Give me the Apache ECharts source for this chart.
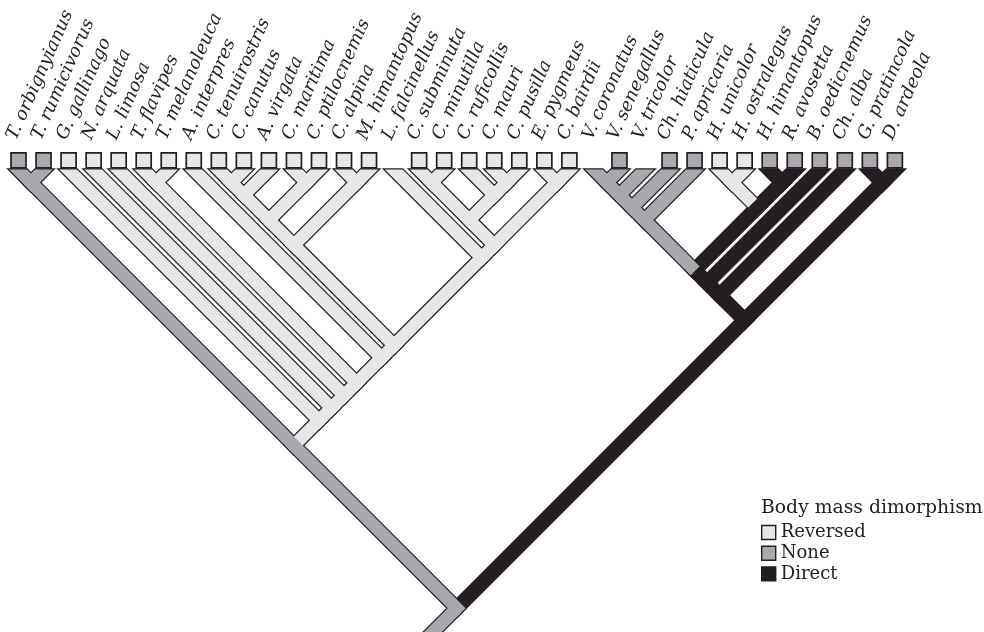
<!DOCTYPE html>
<html>
<head>
<meta charset="utf-8">
<script src="https://cdn.jsdelivr.net/npm/echarts@6.0.0/dist/echarts.min.js"></script>
<style>
  html, body { margin: 0; padding: 0; background: #ffffff; }
  #chart { width: 984px; height: 632px; }
</style>
</head>
<body>
<div id="chart"></div>
<script>
// Shorebird taxa, in tip order from left to right
const taxa = [
  'T. orbignyianus', 'T. rumicivorus', 'G. gallinago', 'N. arquata', 'L. limosa',
  'T. flavipes', 'T. melanoleuca', 'A. interpres', 'C. tenuirostris', 'C. canutus',
  'A. virgata', 'C. maritima', 'C. ptilocnemis', 'C. alpina', 'M. himantopus',
  'L. falcinellus', 'C. subminuta', 'C. minutilla', 'C. ruficollis', 'C. mauri',
  'C. pusilla', 'E. pygmeus', 'C. bairdii', 'V. coronatus', 'V. senegallus',
  'V. tricolor', 'Ch. hiaticula', 'P. apricaria', 'H. unicolor', 'H. ostralegus',
  'H. himantopus', 'R. avosetta', 'B. oedicnemus', 'Ch. alba', 'G. pratincola',
  'D. ardeola'
];

// Body mass dimorphism scored at each tip: R reversed, N none, D direct, '' not scored
const tipStates = [
  'N', 'N', 'R', 'R', 'R', 'R', 'R', 'R', 'R', 'R', 'R', 'R', 'R', 'R', 'R',
  '', 'R', 'R', 'R', 'R', 'R', 'R', 'R', '', 'N', '', 'N', 'N', 'R', 'R',
  'N', 'N', 'N', 'N', 'N', 'N'
];

// Topology: nested pairs of tip indices
const tree = [
  [[0, 1],
   [2, [3, [4, [[5, 6], [7, [
     [[[[8, 9], 10], [11, 12]], [13, 14]],
     [15, [[[16, 17], [18, [19, 20]]], [21, 22]]]
   ]]]]]]],
  [[[[[[[[23, 24], 25], 26], 27], [[28, 29], [30, 31]]], 32], 33], [34, 35]]
];

// Reconstructed branch states: [first tip, last tip, state];
// a branch takes the state of the smallest listed clade that contains it
const cladeStates = [
  [0, 35, 'N'],
  [0, 22, 'N'],
  [2, 22, 'R'],
  [23, 35, 'D'],
  [23, 27, 'N'],
  [28, 29, 'R']
];

const stateNames = { R: 'Reversed', N: 'None', D: 'Direct' };
const legendTitle = 'Body mass dimorphism';

// ---- drawing constants ----
const W = 984, H = 632;
const firstTipPx = 18.5, tipStepPx = 25.04, tipRowPx = 170;
const rootStem = 1.6;            // stem below the root, in tip units
const halfOuter = 7.5, halfInner = 6.3;
const ink = '#231f20';
const palette = { R: '#e6e7e8', N: '#a7a9ac', D: '#231f20' };
const labelFont = 'DejaVu Serif';

// ---- layout of the slanted cladogram (x in tip units, depth in the same units) ----
function layout(node, side) {
  if (typeof node === 'number') {
    return { L: node, R: node, x: node, d: 0, tip: true, side: side, kids: [] };
  }
  const a = layout(node[0], 'L');
  const b = layout(node[1], 'R');
  return { L: a.L, R: b.R, x: (a.L + b.R) / 2, d: (b.R - a.L) / 2, tip: false, side: side, kids: [a, b] };
}
const root = layout(tree, 'R');

function stateOf(L, R) {
  let best = null;
  for (const c of cladeStates) {
    if (c[0] <= L && R <= c[1] && (!best || c[1] - c[0] < best[1] - best[0])) best = c;
  }
  return best[2];
}

const branches = [];
(function collect(n) {
  for (const k of n.kids) {
    collect(k);
    branches.push({ cx: k.x, cd: k.d, px: n.x, pd: n.d,
      collinear: k.side === n.side, tip: k.tip, state: stateOf(k.L, k.R) });
  }
})(root);
branches.push({ cx: root.x, cd: root.d, px: root.x - rootStem, pd: root.d + rootStem,
  collinear: true, tip: false, state: stateOf(root.L, root.R) });

function branchData(list) {
  return list.map(b => [b.cx, b.cd, b.px, b.pd, b.collinear ? 1 : 0, b.tip ? 1 : 0]);
}

// A thick band along one branch; tip ends are cut level with the tip row
function bandRenderer(half, topOffset, color) {
  return function (params, api) {
    const c = api.coord([api.value(0), api.value(1)]);
    const p = api.coord([api.value(2), api.value(3)]);
    const collinear = api.value(4) === 1;
    const isTip = api.value(5) === 1;
    let dx = c[0] - p[0], dy = c[1] - p[1];
    const len = Math.hypot(dx, dy);
    dx /= len; dy /= len;
    const nx = -dy, ny = dx;
    const e = collinear ? 0.8 : half;
    const b0 = [p[0] - dx * e, p[1] - dy * e];
    const pts = [[b0[0] + nx * half, b0[1] + ny * half]];
    if (isTip) {
      const cut = c[1] + topOffset;
      for (const s of [1, -1]) {
        const ex = c[0] + nx * half * s, ey = c[1] + ny * half * s;
        const t = (cut - ey) / dy;
        pts.push([ex + dx * t, cut]);
      }
    } else {
      pts.push([c[0] + nx * half, c[1] + ny * half]);
      pts.push([c[0] - nx * half, c[1] - ny * half]);
    }
    pts.push([b0[0] - nx * half, b0[1] - ny * half]);
    return { type: 'polygon', shape: { points: pts }, style: { fill: color }, silent: true };
  };
}

const xMin = -firstTipPx / tipStepPx, xMax = xMin + W / tipStepPx;
const yMin = -tipRowPx / tipStepPx, yMax = yMin + H / tipStepPx;

const fillSeries = ['R', 'D', 'N'].map((s, i) => ({
  name: stateNames[s],
  type: 'custom',
  coordinateSystem: 'cartesian2d',
  z: 3 + i,
  itemStyle: { color: palette[s], borderColor: ink, borderWidth: 1.2 },
  encode: { x: [0, 2], y: [1, 3] },
  renderItem: bandRenderer(halfInner, -0.4, palette[s]),
  data: branchData(branches.filter(b => b.state === s)),
  animation: false
}));

const tipData = taxa.map((t, i) => [i, 0]);

const chart = echarts.init(document.getElementById('chart'), null, { renderer: 'canvas', width: W, height: H });
chart.setOption({
  backgroundColor: '#ffffff',
  animation: false,
  grid: { left: 0, right: 0, top: 0, bottom: 0 },
  xAxis: { type: 'value', min: xMin, max: xMax, show: false },
  yAxis: { type: 'value', min: yMin, max: yMax, inverse: true, show: false },
  title: {
    text: legendTitle, left: 761, top: 499, padding: 0,
    textStyle: { fontFamily: labelFont, fontSize: 18.8, fontWeight: 'normal', color: ink }
  },
  legend: {
    orient: 'vertical', left: 761, top: 523.5, padding: 0,
    itemWidth: 14, itemHeight: 14, itemGap: 2.7, selectedMode: false,
    icon: 'rect',
    textStyle: { fontFamily: labelFont, fontSize: 18, color: ink },
    data: ['R', 'N', 'D'].map(s => ({
      name: stateNames[s], icon: 'rect',
      itemStyle: { color: palette[s], borderColor: ink, borderWidth: 1.4 }
    }))
  },
  series: [
    {
      name: 'outline',
      type: 'custom',
      coordinateSystem: 'cartesian2d',
      z: 2,
      encode: { x: [0, 2], y: [1, 3] },
      renderItem: bandRenderer(halfOuter, -1.7, ink),
      data: branchData(branches),
      animation: false
    },
    ...fillSeries,
    {
      name: 'tips',
      type: 'custom',
      coordinateSystem: 'cartesian2d',
      z: 10,
      encode: { x: 0, y: 1 },
      renderItem: function (params, api) {
        const i = params.dataIndex;
        const pt = api.coord([api.value(0), api.value(1)]);
        const children = [];
        const st = tipStates[i];
        if (st) {
          children.push({
            type: 'rect',
            shape: { x: pt[0] - 7.5, y: pt[1] - 17.2, width: 15, height: 15 },
            style: { fill: palette[st], stroke: ink, lineWidth: 1.7 }
          });
        }
        const ang = 66 * Math.PI / 180;
        const bx = pt[0] - 2, by = pt[1] - 29;
        const up = 5.2;
        children.push({
          type: 'text',
          x: bx - Math.sin(ang) * up,
          y: by - Math.cos(ang) * up,
          rotation: ang,
          style: {
            text: taxa[i], fill: ink,
            fontFamily: labelFont, fontStyle: 'italic', fontSize: 18,
            align: 'left', verticalAlign: 'middle'
          }
        });
        return { type: 'group', children: children, silent: true };
      },
      data: tipData,
      animation: false
    }
  ]
});
</script>
</body>
</html>
